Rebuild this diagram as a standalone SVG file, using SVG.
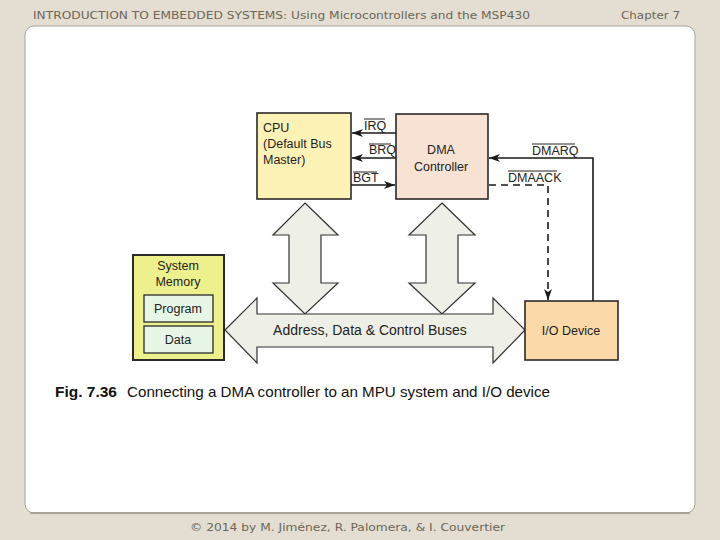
<svg xmlns="http://www.w3.org/2000/svg" width="720" height="540" viewBox="0 0 720 540">
<defs>
<marker id="ah" viewBox="0 0 11 8" refX="11" refY="4" markerWidth="11" markerHeight="8" markerUnits="userSpaceOnUse" orient="auto">
<path d="M0,0 L11,4 L0,8 L3,4 z" fill="#1a1a1a"/>
</marker>
</defs>
<style>
.hdr{font-family:"DejaVu Sans",Verdana,sans-serif;font-size:11px;fill:#6e6658}
.lbl{font-family:"Liberation Sans",Arial,sans-serif;font-size:12.5px;fill:#222}
.box{stroke:#2a2a2a;stroke-width:1.6}
.sig{stroke:#1a1a1a;stroke-width:1.6;fill:none}
.ovl{stroke:#222;stroke-width:1}
.bus{fill:#eef0e8;stroke:#333;stroke-width:1.2}
.cap{font-family:"Liberation Sans",Arial,sans-serif;font-size:15px;fill:#111}
</style>
<rect width="720" height="540" fill="#e3ded1"/>
<rect x="25" y="26" width="670" height="487" rx="9" fill="#ffffff" stroke="#a9a59b" stroke-width="1"/>
<line x1="30" y1="513" x2="690" y2="513" stroke="#9a968c" stroke-width="1.5"/>
<text class="hdr" x="33" y="19" textLength="497" lengthAdjust="spacingAndGlyphs">INTRODUCTION TO EMBEDDED SYSTEMS: Using Microcontrollers and the MSP430</text>
<text class="hdr" x="621" y="19" textLength="59" lengthAdjust="spacingAndGlyphs">Chapter 7</text>
<text class="hdr" x="190" y="531" textLength="315" lengthAdjust="spacingAndGlyphs">© 2014 by M. Jiménez, R. Palomera, &amp; I. Couvertier</text>

<g id="buses">
<polygon class="bus" points="305,203 338,235 321,235 321,283 338,283 305,314 273,283 289,283 289,235 273,235"/>
<polygon class="bus" points="442,203 475,235 458,235 458,283 475,283 442,314 409,283 426,283 426,235 409,235"/>
<polygon class="bus" points="225,330 257,298 257,314 493,314 493,298 525,330 493,363 493,347 257,347 257,363"/>
<text class="lbl" x="370" y="335" text-anchor="middle" style="font-size:14px">Address, Data &amp; Control Buses</text>
</g>

<g id="cpu">
<rect class="box" x="257" y="113" width="94" height="86" fill="#fdf2b6"/>
<text class="lbl" x="263" y="132">CPU</text>
<text class="lbl" x="263" y="148">(Default Bus</text>
<text class="lbl" x="263" y="164">Master)</text>
</g>

<g id="dma">
<rect class="box" x="396" y="114" width="92" height="85" fill="#f8e2d4"/>
<text class="lbl" x="441" y="154" text-anchor="middle">DMA</text>
<text class="lbl" x="441" y="171" text-anchor="middle">Controller</text>
</g>

<g id="memory">
<rect x="133" y="255" width="91" height="105" fill="#eef08e" stroke="#2a2a2a" stroke-width="2"/>
<text class="lbl" x="178" y="270" text-anchor="middle">System</text>
<text class="lbl" x="178" y="286" text-anchor="middle">Memory</text>
<g id="program">
<rect x="144" y="295" width="69" height="27" fill="#e8f6e6" stroke="#2a2a2a" stroke-width="1.3"/>
<text class="lbl" x="178" y="313" text-anchor="middle">Program</text>
</g>
<g id="data">
<rect x="144" y="326" width="69" height="27" fill="#e8f6e6" stroke="#2a2a2a" stroke-width="1.3"/>
<text class="lbl" x="178" y="344" text-anchor="middle">Data</text>
</g>
</g>

<g id="io">
<rect class="box" x="525" y="301" width="93" height="59" fill="#fcd9a8"/>
<text class="lbl" x="571" y="335" text-anchor="middle">I/O Device</text>
</g>

<g id="connectors">
<line class="sig" x1="396" y1="133" x2="352" y2="133" marker-end="url(#ah)"/>
<line class="sig" x1="396" y1="158" x2="352" y2="158" marker-end="url(#ah)"/>
<line class="sig" x1="351" y1="185" x2="395" y2="185" marker-end="url(#ah)"/>
<polyline class="sig" points="593,301 593,158 489,158" marker-end="url(#ah)"/>
<polyline class="sig" points="489,185 548,185 548,300" stroke-dasharray="7,5" marker-end="url(#ah)"/>
<text class="lbl" x="364" y="130">IRQ</text>
<line class="ovl" x1="364" y1="119" x2="385" y2="119"/>
<text class="lbl" x="369" y="154">BRQ</text>
<line class="ovl" x1="369" y1="144" x2="391" y2="144"/>
<text class="lbl" x="353" y="182">BGT</text>
<line class="ovl" x1="353" y1="172" x2="377" y2="172"/>
<text class="lbl" x="532" y="155">DMARQ</text>
<line class="ovl" x1="532" y1="144" x2="575" y2="144"/>
<text class="lbl" x="508" y="182">DMAACK</text>
<line class="ovl" x1="508" y1="171" x2="557" y2="171"/>
</g>

<text class="cap" x="55" y="397"><tspan font-weight="bold" textLength="62" lengthAdjust="spacingAndGlyphs">Fig. 7.36</tspan></text>
<text class="cap" x="127" y="397" textLength="423" lengthAdjust="spacingAndGlyphs">Connecting a DMA controller to an MPU system and I/O device</text>
</svg>
